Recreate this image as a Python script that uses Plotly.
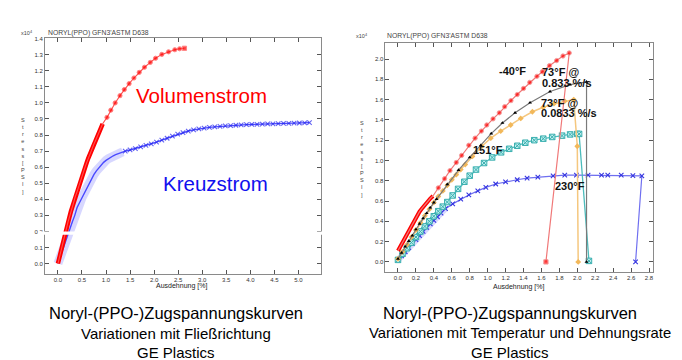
import plotly.graph_objects as go

# ---------------- Left chart: flow direction ----------------
vol_x = [0.00, 0.03, 0.06, 0.09, 0.12, 0.15, 0.18, 0.21, 0.24, 0.27, 0.30, 0.33, 0.36, 0.39,
         0.42, 0.45, 0.48, 0.51, 0.54, 0.57, 0.60, 0.63, 0.66, 0.69, 0.72, 0.75, 0.78, 0.81,
         0.84, 0.87, 0.90, 0.93,
         1.02, 1.10, 1.19, 1.29, 1.38, 1.48, 1.58, 1.69, 1.80, 1.92, 2.03, 2.16, 2.30, 2.43,
         2.53, 2.63]
vol_y = [0.00, 0.04, 0.08, 0.115, 0.15, 0.19, 0.225, 0.26, 0.29, 0.325, 0.355, 0.385, 0.415, 0.44,
         0.47, 0.50, 0.525, 0.55, 0.58, 0.605, 0.63, 0.655, 0.675, 0.70, 0.72, 0.745, 0.765, 0.785,
         0.805, 0.83, 0.85, 0.87,
         0.91, 0.955, 1.00, 1.045, 1.083, 1.12, 1.155, 1.19, 1.222, 1.252, 1.278, 1.302, 1.318, 1.331,
         1.337, 1.340]
vol_dense_n = 32

kreuz_x = [0.00, 0.05, 0.10, 0.15, 0.20, 0.25, 0.30, 0.35, 0.40, 0.45, 0.50, 0.55, 0.60, 0.65,
           0.70, 0.75, 0.80, 0.85, 0.90, 0.95, 1.00, 1.05, 1.10, 1.15, 1.20, 1.25, 1.30, 1.35,
           1.40, 1.50, 1.61, 1.72, 1.83, 1.94, 2.05, 2.16, 2.27, 2.38, 2.49, 2.60, 2.71, 2.82,
           2.93, 3.04, 3.15, 3.26, 3.37, 3.48, 3.59, 3.70, 3.81, 3.92, 4.03, 4.14, 4.25, 4.36,
           4.47, 4.58, 4.69, 4.80, 4.91, 5.02, 5.13, 5.23]
kreuz_y = [0.000, 0.045, 0.09, 0.135, 0.178, 0.22, 0.26, 0.30, 0.35, 0.38, 0.41, 0.44, 0.475, 0.50,
           0.53, 0.555, 0.577, 0.597, 0.615, 0.63, 0.642, 0.653, 0.663, 0.671, 0.678, 0.684, 0.689, 0.695,
           0.700, 0.707, 0.716, 0.726, 0.735, 0.745, 0.756, 0.768, 0.780, 0.793, 0.805, 0.815, 0.825, 0.832,
           0.838, 0.843, 0.848, 0.851, 0.854, 0.857, 0.859, 0.861, 0.863, 0.865, 0.866, 0.867, 0.868, 0.869,
           0.870, 0.871, 0.872, 0.873, 0.874, 0.875, 0.876, 0.877]
kreuz_dense_n = 28

left_xticks = [0.0, 0.5, 1.0, 1.5, 2.0, 2.5, 3.0, 3.5, 4.0, 4.5, 5.0]
left_yticks = [0.0, 0.1, 0.2, 0.3, 0.4, 0.5, 0.6, 0.7, 0.8, 0.9, 1.0, 1.1, 1.2, 1.3, 1.4]

# ---------------- Right chart: temperature & strain rate ----------------
m40_x = [0.00, 0.03, 0.06, 0.09, 0.12, 0.15, 0.18, 0.21, 0.24, 0.27, 0.30, 0.33, 0.36, 0.39,
         0.45, 0.52, 0.58, 0.65, 0.71, 0.79, 0.86, 0.93, 0.99, 1.06, 1.13, 1.19, 1.26, 1.33,
         1.40, 1.47, 1.55, 1.61, 1.69, 1.77, 1.84, 1.91, 1.65]
m40_y = [0.11, 0.16, 0.21, 0.255, 0.305, 0.35, 0.40, 0.45, 0.495, 0.53, 0.565, 0.595, 0.625, 0.65,
         0.73, 0.82, 0.90, 0.98, 1.05, 1.15, 1.22, 1.29, 1.35, 1.41, 1.47, 1.53, 1.59, 1.65,
         1.71, 1.77, 1.83, 1.875, 1.935, 1.985, 2.03, 2.06, 0.00]
m40_dense_n = 14

f73fast_x = [0.00, 0.04, 0.08, 0.12, 0.16, 0.20, 0.24, 0.28, 0.32, 0.36, 0.40, 0.43, 0.55, 0.675,
             0.80, 0.924, 1.04, 1.165, 1.306, 1.473, 1.696, 1.918, 2.103, 2.103]
f73fast_y = [0.03, 0.09, 0.15, 0.205, 0.26, 0.32, 0.375, 0.43, 0.48, 0.535, 0.585, 0.62, 0.765, 0.905,
             1.03, 1.15, 1.265, 1.37, 1.47, 1.57, 1.68, 1.748, 1.775, 0.00]

f73slow_x = [0.00, 0.05, 0.10, 0.15, 0.20, 0.25, 0.30, 0.35, 0.40, 0.45, 0.50, 0.55, 0.60, 0.65,
             0.70, 0.75, 0.83, 0.935, 1.035, 1.146, 1.257, 1.369, 1.499, 1.62, 1.74, 1.86, 1.96,
             2.00, 2.01]
f73slow_y = [0.03, 0.10, 0.17, 0.245, 0.315, 0.385, 0.455, 0.52, 0.585, 0.645, 0.70, 0.755, 0.81, 0.86,
             0.91, 0.96, 1.04, 1.14, 1.22, 1.29, 1.35, 1.415, 1.48, 1.525, 1.56, 1.585, 1.60,
             1.14, 0.00]

f151_x = [0.00, 0.05, 0.10, 0.15, 0.20, 0.25, 0.30, 0.35, 0.40, 0.45, 0.50, 0.55, 0.61, 0.67,
          0.74, 0.80, 0.87, 0.96, 1.05, 1.15, 1.24, 1.33, 1.42, 1.52, 1.62, 1.72, 1.83, 1.92,
          2.00, 2.02, 2.13]
f151_y = [0.02, 0.08, 0.135, 0.19, 0.245, 0.30, 0.35, 0.40, 0.45, 0.50, 0.545, 0.59, 0.655, 0.72,
          0.79, 0.85, 0.91, 0.975, 1.03, 1.08, 1.115, 1.145, 1.175, 1.20, 1.215, 1.232, 1.245, 1.257,
          1.262, 1.262, 0.01]
f151_dense_n = 10

f230_x = [0.00, 0.04, 0.08, 0.12, 0.16, 0.20, 0.24, 0.28, 0.32, 0.36, 0.40, 0.44, 0.48, 0.53,
          0.61, 0.70, 0.79, 0.89, 0.98, 1.09, 1.20, 1.33, 1.44, 1.56, 1.73, 1.86, 1.99, 2.12,
          2.27, 2.34, 2.49, 2.62, 2.72, 2.65]
f230_y = [0.02, 0.06, 0.10, 0.14, 0.18, 0.22, 0.26, 0.30, 0.34, 0.375, 0.41, 0.445, 0.48, 0.525,
          0.572, 0.62, 0.66, 0.70, 0.735, 0.768, 0.79, 0.81, 0.826, 0.835, 0.849, 0.855, 0.856, 0.856,
          0.856, 0.856, 0.856, 0.85, 0.849, 0.00]
f230_dense_n = 14

right_xticks = [0.0, 0.2, 0.4, 0.6, 0.8, 1.0, 1.2, 1.4, 1.6, 1.8, 2.0, 2.2, 2.4, 2.6, 2.8]
right_yticks = [0.0, 0.2, 0.4, 0.6, 0.8, 1.0, 1.2, 1.4, 1.6, 1.8, 2.0]

SANS = "Liberation Sans, Arial, sans-serif"
HALO = "rgba(140,140,255,0.35)"

fig = go.Figure()


def sizes(n_total, n_dense, dense_size, sparse_size):
    return [dense_size] * n_dense + [sparse_size] * (n_total - n_dense)


# ---- left traces
fig.add_trace(go.Scatter(x=kreuz_x[:kreuz_dense_n], y=kreuz_y[:kreuz_dense_n], mode="lines",
                         line=dict(color=HALO, width=9),
                         hoverinfo="skip", showlegend=False, xaxis="x", yaxis="y"))
fig.add_trace(go.Scatter(x=kreuz_x, y=kreuz_y, mode="lines+markers",
                         line=dict(color="#4a4aff", width=1.4),
                         marker=dict(symbol="x-thin", size=sizes(len(kreuz_x), kreuz_dense_n, 0, 4.5),
                                     line=dict(color="#2222ee", width=1.1)),
                         name="Kreuzstrom", showlegend=False, xaxis="x", yaxis="y"))
fig.add_trace(go.Scatter(x=vol_x[:vol_dense_n], y=vol_y[:vol_dense_n], mode="lines",
                         line=dict(color="#ff0000", width=4.5),
                         hoverinfo="skip", showlegend=False, xaxis="x", yaxis="y"))
fig.add_trace(go.Scatter(x=vol_x, y=vol_y, mode="lines+markers",
                         line=dict(color="#ff5050", width=1.1),
                         marker=dict(symbol=["circle"] * (len(vol_x) - 1) + ["square"],
                                     size=sizes(len(vol_x), vol_dense_n, 0, 4.2), color="#ff0000"),
                         name="Volumenstrom", showlegend=False, xaxis="x", yaxis="y"))

# ---- right traces
fig.add_trace(go.Scatter(x=f230_x[:f230_dense_n], y=f230_y[:f230_dense_n], mode="lines",
                         line=dict(color=HALO, width=6),
                         hoverinfo="skip", showlegend=False, xaxis="x2", yaxis="y2"))
fig.add_trace(go.Scatter(x=f230_x, y=f230_y, mode="lines+markers",
                         line=dict(color="#6f6ff0", width=1.2),
                         marker=dict(symbol="x-thin", size=4.5, line=dict(color="#3535e0", width=1.1)),
                         name="230°F", showlegend=False, xaxis="x2", yaxis="y2"))
fig.add_trace(go.Scatter(x=f151_x[:f151_dense_n], y=f151_y[:f151_dense_n], mode="lines",
                         line=dict(color="#33b0b0", width=4),
                         hoverinfo="skip", showlegend=False, xaxis="x2", yaxis="y2"))
fig.add_trace(go.Scatter(x=f151_x, y=f151_y, mode="lines+markers",
                         line=dict(color="#4cbcbc", width=1.3),
                         marker=dict(symbol="square-x", size=5.5, color="#bdeeee",
                                     line=dict(color="#3aafaf", width=1)),
                         name="151°F", showlegend=False, xaxis="x2", yaxis="y2"))
fig.add_trace(go.Scatter(x=f73slow_x, y=f73slow_y, mode="lines+markers",
                         line=dict(color="#f5c77e", width=1.5),
                         marker=dict(symbol="diamond", size=4.5, color="#f2b85a"),
                         name="73°F @ 0.0833 %/s", showlegend=False, xaxis="x2", yaxis="y2"))
fig.add_trace(go.Scatter(x=f73fast_x, y=f73fast_y, mode="lines+markers",
                         line=dict(color="#7a7a7a", width=1.2),
                         marker=dict(symbol="triangle-up", size=3.5, color="#000000"),
                         name="73°F @ 0.833 %/s", showlegend=False, xaxis="x2", yaxis="y2"))
fig.add_trace(go.Scatter(x=m40_x[:m40_dense_n], y=m40_y[:m40_dense_n], mode="lines",
                         line=dict(color="#ff0000", width=4),
                         hoverinfo="skip", showlegend=False, xaxis="x2", yaxis="y2"))
fig.add_trace(go.Scatter(x=m40_x, y=m40_y, mode="lines+markers",
                         line=dict(color="#f07878", width=1.2),
                         marker=dict(symbol=["circle"] * (len(m40_x) - 1) + ["square"],
                                     size=sizes(len(m40_x), m40_dense_n, 0, 4.3), color="#ff0000"),
                         name="-40°F", showlegend=False, xaxis="x2", yaxis="y2"))

axis_common = dict(showline=True, linecolor="#8a8a8a", linewidth=1, mirror="ticks", ticks="inside",
                   ticklen=4, tickcolor="#555555", showgrid=False, zeroline=False,
                   tickfont=dict(family=SANS, size=6, color="#333333"), fixedrange=True)

fig.update_layout(
    width=682, height=360, margin=dict(l=0, r=0, t=0, b=0),
    paper_bgcolor="white", plot_bgcolor="white", showlegend=False,
    xaxis=dict(domain=[37 / 682, 313 / 682], range=[-0.27, 5.46], anchor="y",
               tickvals=left_xticks, ticktext=[f"{v:.1f}" for v in left_xticks], **axis_common),
    yaxis=dict(domain=[(360 - 265) / 360, (360 - 28) / 360], range=[-0.062, 1.405], anchor="x",
               tickvals=left_yticks, ticktext=[f"{v:.1f}" for v in left_yticks], **axis_common),
    xaxis2=dict(domain=[378 / 682, 646 / 682], range=[-0.14, 2.845], anchor="y2",
                tickvals=right_xticks, ticktext=[f"{v:.1f}" for v in right_xticks], **axis_common),
    yaxis2=dict(domain=[(360 - 263) / 360, (360 - 33) / 360], range=[-0.095, 2.16], anchor="x2",
                tickvals=right_yticks, ticktext=[f"{v:.1f}" for v in right_yticks], **axis_common),
)

ann = []


def paper_text(text, x, y, size, color="#222222", family=SANS, xanchor="center", yanchor="middle"):
    ann.append(dict(text=text, x=x / 682, y=(360 - y) / 360, xref="paper", yref="paper",
                    showarrow=False, xanchor=xanchor, yanchor=yanchor,
                    font=dict(family=family, size=size, color=color)))


# chart headers
paper_text("NORYL(PPO) GFN3'ASTM D638", 38, 23, 6.8, "#444444", xanchor="left")
paper_text("NORYL(PPO) GFN3'ASTM D638", 378, 26, 6.8, "#444444", xanchor="left")
paper_text("x10<sup>4</sup>", 11, 23, 5.5, "#444444", xanchor="left")
paper_text("x10<sup>4</sup>", 347, 26, 5.5, "#444444", xanchor="left")
# axis titles
paper_text("Ausdehnung [%]", 174, 278, 7, "#222222")
paper_text("Ausdehnung [%]", 511, 279, 7, "#222222")
stress = "<br>".join(list("Stress[PSI]"))
paper_text(stress, 15, 147, 5.5, "#444444")
paper_text(stress, 355, 150, 5.5, "#444444")

# curve labels (data coordinates)
ann.append(dict(text="Volumenstrom", x=2.98, y=1.047, xref="x", yref="y", showarrow=False,
                font=dict(family=SANS, size=20.5, color="#ff0000")))
ann.append(dict(text="Kreuzstrom", x=3.27, y=0.499, xref="x", yref="y", showarrow=False,
                font=dict(family=SANS, size=20.5, color="#1010ee")))
for txt, x, y in [("-40°F", 1.11, 1.884), ("73°F @", 1.60, 1.868), ("0.833 %/s", 1.60, 1.76),
                  ("73°F @", 1.58, 1.569), ("0.0833 %/s", 1.58, 1.464), ("151°F", 0.83, 1.103),
                  ("230°F", 1.74, 0.751)]:
    ann.append(dict(text=f"<b>{txt}</b>", x=x, y=y, xref="x2", yref="y2", showarrow=False,
                    xanchor="left", borderpad=0,
                    font=dict(family=SANS, size=11, color="#111111")))

# captions
paper_text("Noryl-(PPO-)Zugspannungskurven", 168, 305, 16.5, "#000000")
paper_text("Variationen mit Fließrichtung", 168, 325, 15, "#000000")
paper_text("GE Plastics", 168, 344, 15, "#000000")
paper_text("Noryl-(PPO-)Zugspannungskurven", 503, 305, 16.5, "#000000")
paper_text("Variationen mit Temperatur und Dehnungsrate", 513, 325, 14.8, "#000000")
paper_text("GE Plastics", 503, 344, 15, "#000000")

fig.update_layout(annotations=ann)

# splice gap in the left chart (white band seen in the original scan)
fig.add_shape(type="rect", xref="paper", yref="paper", x0=30 / 682, x1=320 / 682,
              y0=(360 - 226) / 360, y1=(360 - 222.7) / 360, fillcolor="white",
              line=dict(width=0), layer="above")

fig.write_html("out.html")
